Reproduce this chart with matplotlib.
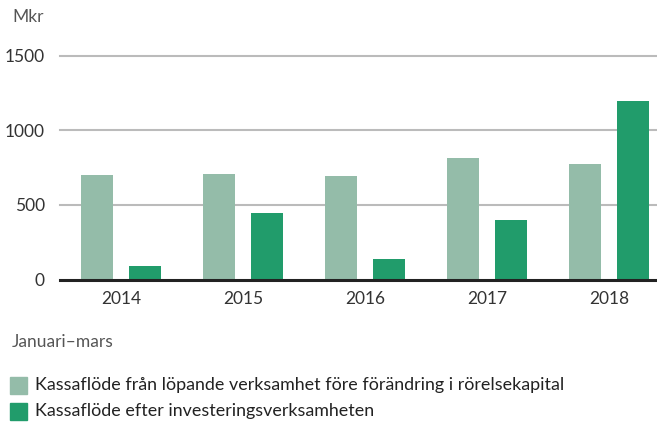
import matplotlib
matplotlib.use("Agg")
import matplotlib.pyplot as plt
import numpy as np

years = ["2014", "2015", "2016", "2017", "2018"]
lopande = [699, 706, 693, 814, 774]
efter = [91, 443, 139, 402, 1199]
yticks = [0, 500, 1000, 1500]
labels = ["Kassaflöde från löpande verksamhet före förändring i rörelsekapital",
          "Kassaflöde efter investeringsverksamheten"]
c_light = "#94bca9"
c_dark = "#219c6b"

plt.rcParams['font.family'] = ['Lato', 'DejaVu Sans']
fig = plt.figure(figsize=(6.57, 4.25), dpi=100)
ax = fig.add_axes([60/657, 1-279.5/425, 596/657, (279.5-55.7)/425])

x = np.arange(len(years))
w = 0.262
off = 0.2
ax.bar(x - off, lopande, w, color=c_light, zorder=3)
ax.bar(x + off, efter, w, color=c_dark, zorder=3)

ax.set_xlim(-0.5, 4.385)
ax.set_ylim(0, 1500)
ax.set_yticks(yticks)
ax.set_yticklabels([str(v) for v in yticks])
ax.set_xticks(x)
ax.set_xticklabels(years)
for v in yticks[1:]:
    ax.axhline(v, color="#bbbbbb", lw=1.5, zorder=1, clip_on=False)
ax.axhline(0, color="#222222", lw=2.2, zorder=4, clip_on=False)
for s in ax.spines.values():
    s.set_visible(False)
ax.tick_params(axis='both', length=0, labelsize=12.5, colors="#333333")
ax.tick_params(axis='y', pad=11)
ax.tick_params(axis='x', pad=8)

fig.text(12/657, 1-17/425, "Mkr", fontsize=12.5, color="#555555", va="center", ha="left")
fig.text(12/657, 1-342/425, "Januari–mars", fontsize=12.5, color="#555555", va="center", ha="left")

for i, (lab, col) in enumerate(zip(labels, [c_light, c_dark])):
    yc = 385 + i*26
    fig.patches.append(plt.Rectangle((10/657, 1-(yc+8.5)/425), 17/657, 17/425,
                                     transform=fig.transFigure, color=col, figure=fig))
    fig.text(35/657, 1-yc/425, lab, fontsize=12.9, color="#222222", va="center", ha="left")

fig.savefig("out.png", dpi=100)
